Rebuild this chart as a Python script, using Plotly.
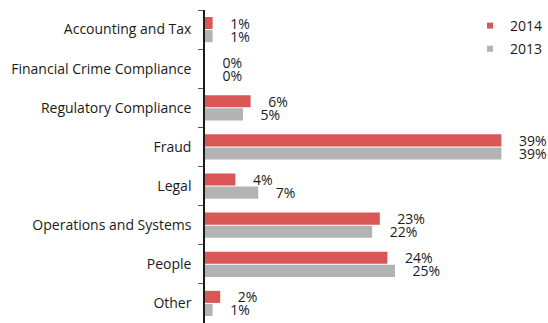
import plotly.graph_objects as go

# Share of responses by risk category, two survey years
categories = [
    "Accounting and Tax",
    "Financial Crime Compliance",
    "Regulatory Compliance",
    "Fraud",
    "Legal",
    "Operations and Systems",
    "People",
    "Other",
]
values_2014 = [1, 0, 6, 39, 4, 23, 24, 2]
values_2013 = [1, 0, 5, 39, 7, 22, 25, 1]
series_names = ["2014", "2013"]
series_colors = ["#D95757", "#B3B3B3"]

FONT = "Open Sans"
FONT_SIZE = 14
TEXT_COLOR = "#1a1a1a"
PAD = "\u00a0" * 4  # space between bar end and its value label

fig = go.Figure()
for name, vals, color in zip(series_names, [values_2014, values_2013], series_colors):
    fig.add_trace(go.Bar(
        y=categories,
        x=vals,
        orientation="h",
        name=name,
        marker=dict(color=color, line=dict(width=0)),
        text=vals,
        texttemplate=PAD + "%{x}%",
        textposition="outside",
        constraintext="none",
        textfont=dict(family=FONT, size=FONT_SIZE, color=TEXT_COLOR),
        cliponaxis=False,
        showlegend=False,
        hoverinfo="skip",
    ))
    # small square legend keys
    fig.add_trace(go.Scatter(
        x=[None], y=[None], mode="markers", name=name,
        marker=dict(symbol="square", size=6, color=color),
        legendgroup=name, showlegend=True,
    ))

fig.update_layout(
    width=548,
    height=323,
    margin=dict(l=205, r=0, t=10, b=0),
    paper_bgcolor="white",
    plot_bgcolor="white",
    barmode="group",
    bargap=0.33,
    bargroupgap=0.08,
    uniformtext=dict(mode=False),
    font=dict(family=FONT, size=FONT_SIZE, color=TEXT_COLOR),
    legend=dict(
        x=0.775, y=1.0, xanchor="left", yanchor="top",
        font=dict(family=FONT, size=FONT_SIZE, color=TEXT_COLOR),
        traceorder="grouped", tracegroupgap=2,
        bgcolor="rgba(0,0,0,0)",
    ),
    xaxis=dict(
        range=[0, 45],
        visible=False,
        showgrid=False,
        zeroline=False,
    ),
    yaxis=dict(
        categoryorder="array",
        categoryarray=categories,
        autorange="reversed",
        showline=True,
        linecolor="#1a1a1a",
        linewidth=1.5,
        ticks="outside",
        tickson="boundaries",
        ticklen=5,
        tickcolor="#555555",
        ticklabelstandoff=9,
        tickfont=dict(family=FONT, size=FONT_SIZE, color=TEXT_COLOR),
        showgrid=False,
        zeroline=False,
    ),
)

fig.write_html("out.html")
